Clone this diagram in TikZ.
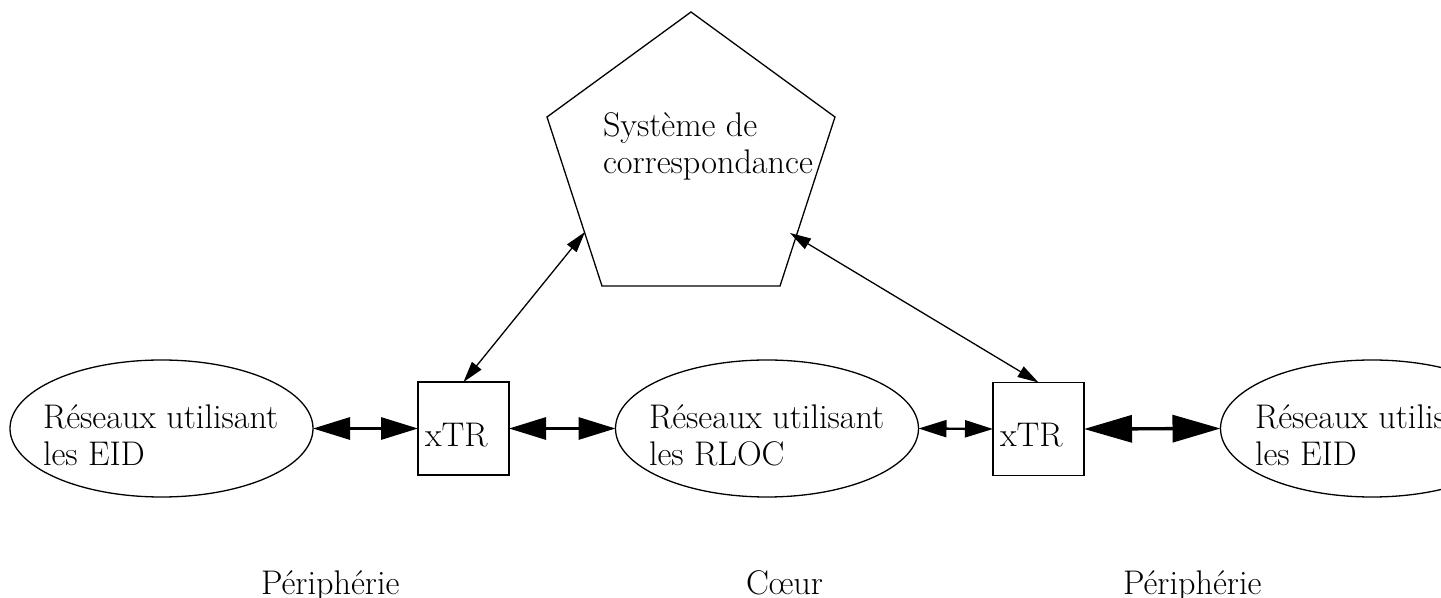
\documentclass[tikz,border=0pt]{standalone}
\usetikzlibrary{shapes.geometric,arrows.meta}
\begin{document}
\begin{tikzpicture}[x=0.5pt,y=-0.5pt,
  shapeline/.style={draw=black,line width=0.65pt},
  lbl/.style={anchor=base west,inner sep=0pt,outer sep=0pt,font=\fontsize{17.1pt}{18.5pt}\selectfont,align=left},
  ell/.style={shapeline,ellipse,inner sep=0pt,outer sep=0pt,minimum width=151.5pt,minimum height=68.5pt},
  box/.style={shapeline,rectangle,inner sep=0pt,outer sep=0pt,minimum width=45.5pt,minimum height=46.5pt},
  bigA/.style={line width=1.5pt,{Triangle[length=18.5pt,width=11pt]}-{Triangle[length=18.5pt,width=11pt]}},
  midA/.style={line width=1.2pt,{Triangle[length=14pt,width=8.5pt]}-{Triangle[length=14pt,width=8.5pt]}},
  hugeA/.style={line width=1.7pt,{Triangle[length=24pt,width=13.5pt]}-{Triangle[length=24pt,width=13.5pt]}},
  thinA/.style={line width=0.65pt,{Triangle[length=10.5pt,width=6pt]}-{Triangle[length=10.5pt,width=6pt]}}
]
\useasboundingbox (0,0) rectangle (1441,598);
\clip (0,0) rectangle (1441,598);
% pentagon
\coordinate (p1) at (691,12);
\coordinate (p2) at (835,117);
\coordinate (p3) at (780,286);
\coordinate (p4) at (602,286);
\coordinate (p5) at (547,117);
\draw[shapeline,line join=miter] (p1) -- (p2) -- (p3) -- (p4) -- (p5) -- cycle;
\node[lbl] (systxt) at (603,174) {Système de\\correspondance};
\coordinate (sysL) at (585,232);
\coordinate (sysR) at (790,233);
% ellipses
\node[ell] (e1) at (161.5,428.5) {};
\node[ell] (e2) at (767,428.5) {};
\node[ell] (e3) at (1372,428.5) {};
\node[lbl] (t1) at (43,466) {Réseaux utilisant\\les EID};
\node[lbl] (t2) at (649,466) {Réseaux utilisant\\les RLOC};
\node[lbl] (t3) at (1255,466) {Réseaux utilisant\\les EID};
% boxes
\node[box] (x1) at (463.5,428.5) {};
\node[box] (x2) at (1038.5,429) {};
\node[lbl] (xt1) at (425,447) {xTR};
\node[lbl] (xt2) at (1000,447) {xTR};
% arrows
\draw[bigA] (e1.east) -- (x1.west);
\draw[bigA] (x1.east) -- (e2.west);
\draw[midA] (e2.east) -- (x2.west);
\draw[hugeA] (x2.east) -- (e3.west);
\draw[thinA] (x1.north) -- (sysL);
\draw[thinA] (sysR) -- (x2.north);
% bottom labels
\node[lbl] (b1) at (261,595) {Périphérie};
\node[lbl] (b2) at (746,595) {Cœur};
\node[lbl] (b3) at (1123,595) {Périphérie};
\end{tikzpicture}
\end{document}
